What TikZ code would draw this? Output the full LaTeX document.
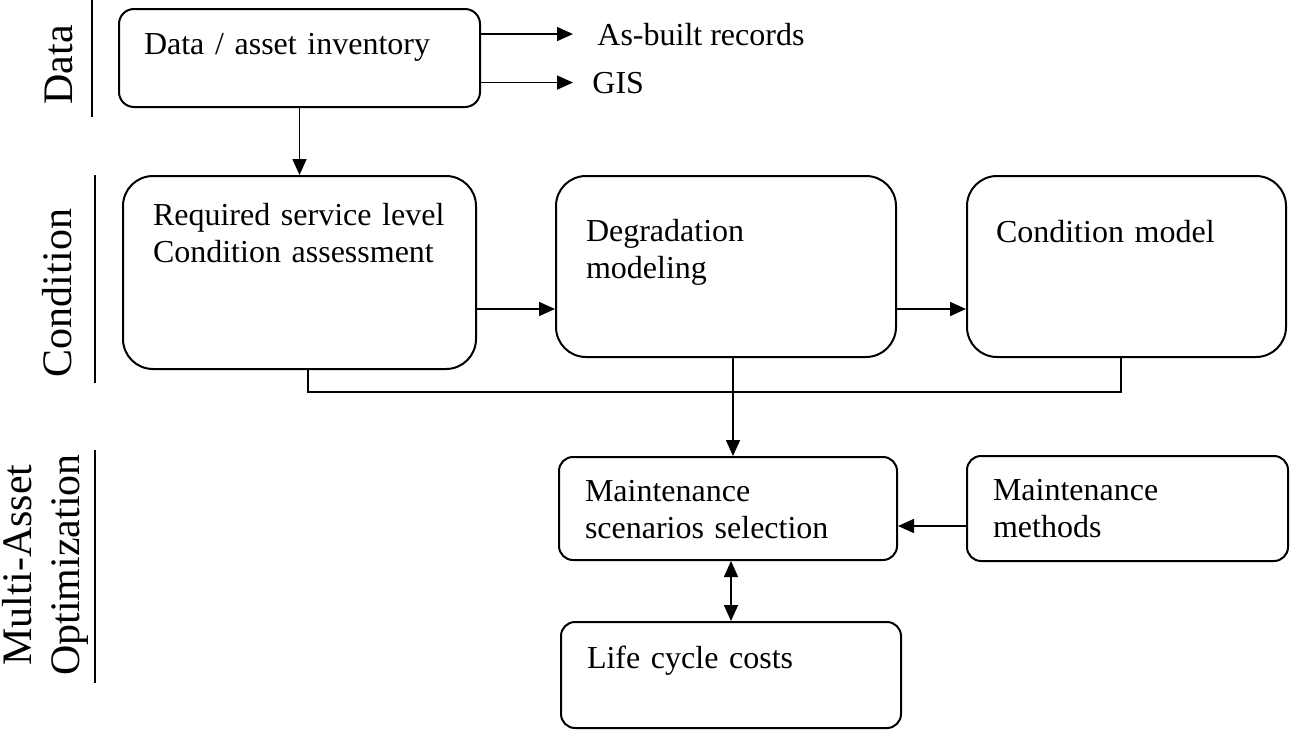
\documentclass[tikz,border=0pt]{standalone}
\usepackage{fontspec}
\setmainfont{Liberation Serif}
\usetikzlibrary{arrows.meta}

\tikzset{
  blk/.style = {draw, line width = 1pt, rounded corners = 7pt, align = left,
    anchor = north west, inner ysep = 0pt, font = \fontsize{16}{18.5}\selectfont},
  big/.style = {blk, rounded corners = 15pt},
  txt/.style = {inner sep = 0pt, anchor = base west, font = \fontsize{16}{18.5}\selectfont},
  side/.style = {rotate = 90, inner sep = 0pt, align = center,
    font = \fontsize{21}{24}\selectfont},
  conn/.style = {line width = 0.8pt},
  arr/.style = {conn, -{Triangle[length = 8pt, width = 7pt]}},
  darr/.style = {conn, {Triangle[length = 8pt, width = 7pt]}-{Triangle[length = 8pt, width = 7pt]}}
}

\begin{document}
\begin{tikzpicture}[x = 0.5pt, y = -0.5pt]
  \useasboundingbox (0, 0) rectangle (1297, 729);

  % side labels
  \node[side] (lbdata) at (59, 65) {Data};
  \node[side] (lbcond) at (57.5, 293) {Condition};
  \node[side] (lbopt) at (45, 565) {Multi-Asset\\Optimization};
  \draw[conn] (92, 0) -- (92, 117);
  \draw[conn] (95, 175) -- (95, 383);
  \draw[conn] (95, 450) -- (95, 683);

  % boxes
  \node[blk, rounded corners = 7.5pt, text width = 155.5pt, inner xsep = 12.5pt,
    text height = 22.5pt, text depth = 26.5pt] (data) at (118, 8)
    {Data / asset inventory};
  \node[txt] (asb) at (597, 45) {As-built records};
  \node[txt] (gis) at (592, 93) {GIS};

  \node[big, text width = 146.5pt, inner xsep = 15pt,
    text height = 24.5pt, text depth = 72pt] (req) at (122, 175)
    {Required service level\\Condition assessment};
  \node[big, text width = 140pt, inner xsep = 15pt,
    text height = 32.5pt, text depth = 58pt] (deg) at (555, 175)
    {Degradation\\modeling};
  \node[big, text width = 130.5pt, inner xsep = 14.5pt,
    text height = 33pt, text depth = 57.5pt] (cm) at (966, 175)
    {Condition model};

  \node[blk, text width = 143pt, inner xsep = 13pt,
    text height = 22pt, text depth = 29.5pt] (sel) at (558, 456)
    {Maintenance\\scenarios selection};
  \node[blk, text width = 134.5pt, inner xsep = 13pt,
    text height = 22pt, text depth = 30.5pt] (mm) at (966, 455)
    {Maintenance\\methods};
  \node[blk, text width = 144pt, inner xsep = 13pt,
    text height = 23pt, text depth = 30pt] (lcc) at (560, 621)
    {Life cycle costs};

  % connectors
  \coordinate (tip) at (573, 0);
  \draw[arr] (data.east |- asb.west) -- (tip |- asb.west);
  \draw[arr] (data.east |- gis.west) -- (tip |- gis.west);
  \draw[arr] (data) -- (req);

  \coordinate (mid) at (0, 309);
  \draw[arr] (req.east |- mid) -- (deg.west |- mid);
  \draw[arr] (deg.east |- mid) -- (cm.west |- mid);

  \coordinate (busl) at (308, 392);
  \coordinate (busr) at (1121, 392);
  \coordinate (drop) at (733, 392);
  \draw[conn] (req.south -| busl) -- (busl) -- (busr) -- (cm.south -| busr);
  \draw[arr] (deg.south -| drop) -- (sel.north -| drop);

  \coordinate (mmy) at (0, 526);
  \draw[arr] (mm.west |- mmy) -- (sel.east |- mmy);

  \coordinate (lcx) at (731, 0);
  \draw[darr] (sel.south -| lcx) -- (lcc.north -| lcx);
\end{tikzpicture}
\end{document}
